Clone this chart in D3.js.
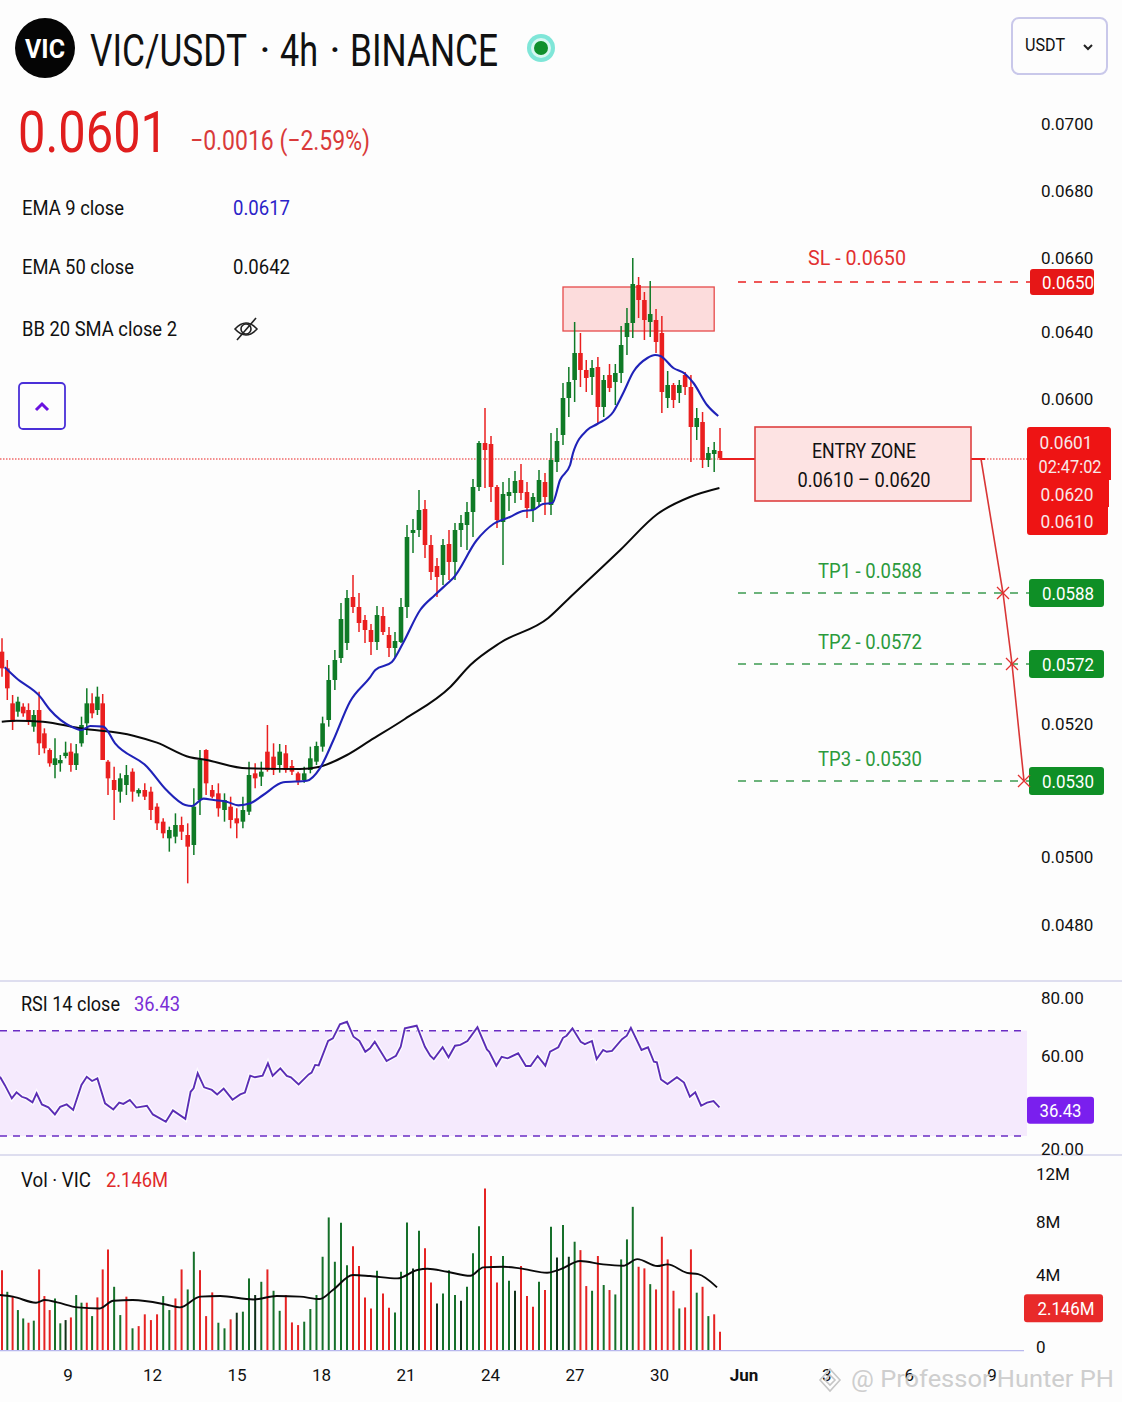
<!DOCTYPE html>
<html>
<head>
<meta charset="utf-8">
<script src="https://cdn.jsdelivr.net/npm/d3@7"></script>
<style>
  html, body { margin: 0; padding: 0; background: #fdfdfd; }
  svg { display: block; font-family: Roboto, "Noto Sans", sans-serif; }
</style>
</head>
<body>
<div id="chart"></div>
<script>
// candle prices are in 1/100000 USDT (6010 = 0.0601)
const candleOpen = [5432,5382,5277,5252,5267,5257,5207,5257,5187,5137,5092,5097,5119,5132,5092,5157,5217,5277,5257,5277,5102,5047,5012,5032,5072,5007,5017,5012,4967,4922,4872,4877,4912,4882,4852,4987,5137,5017,5007,4957,4967,4932,4922,4952,5067,5057,5132,5117,5092,5127,5089,5067,5047,5077,5102,5147,5227,5347,5413,5458,5596,5566,5527,5497,5461,5539,5482,5443,5461,5566,5788,5797,5860,5752,5689,5662,5755,5701,5797,5812,5851,5926,6058,6055,5926,5821,5899,5908,5947,5911,5857,5881,5941,5872,6001,6082,6193,6247,6328,6277,6256,6286,6166,6262,6241,6268,6376,6418,6532,6487,6421,6427,6388,6193,6232,6208,6262,6226,6106,6121,6007,6025,6034];
const candleHigh = [5472,5407,5302,5297,5277,5277,5257,5312,5202,5142,5172,5122,5162,5157,5155,5237,5322,5307,5327,5305,5107,5087,5067,5092,5082,5022,5037,5027,4977,4932,4907,4947,4937,4917,5022,5137,5139,5032,5037,5007,4997,4962,4997,5102,5097,5102,5212,5157,5155,5152,5107,5072,5087,5147,5162,5237,5392,5437,5578,5617,5662,5608,5542,5515,5569,5566,5506,5491,5593,5812,5830,5917,5887,5782,5713,5770,5797,5818,5842,5881,5950,6064,6163,6079,5932,5941,5953,5974,5995,5941,5908,5977,5968,6088,6103,6238,6286,6421,6388,6307,6307,6316,6262,6295,6295,6409,6463,6613,6556,6511,6544,6460,6439,6274,6238,6247,6271,6262,6163,6151,6046,6061,6103];
const candleLow = [5357,5287,5197,5237,5237,5212,5192,5122,5127,5087,5052,5072,5112,5072,5077,5147,5182,5232,5242,5107,5002,4927,4979,5002,4982,4997,4987,4927,4897,4872,4832,4857,4867,4737,4822,4942,5002,4992,4937,4922,4902,4872,4902,4942,5022,5029,5072,5062,5069,5069,5062,5032,5039,5067,5092,5132,5207,5317,5398,5437,5548,5491,5458,5422,5437,5482,5416,5416,5458,5533,5728,5776,5713,5647,5596,5632,5647,5647,5746,5737,5776,5914,5923,5881,5803,5692,5854,5878,5887,5833,5821,5866,5842,5842,5971,6052,6136,6181,6226,6211,6202,6118,6136,6211,6172,6238,6322,6373,6433,6367,6376,6328,6148,6163,6163,6178,6202,6001,6067,5983,5986,5971,6007];
const candleClose = [5382,5322,5222,5282,5247,5222,5242,5157,5142,5097,5112,5107,5129,5092,5127,5212,5277,5247,5297,5107,5052,5017,5052,5062,5012,5017,4997,4957,4917,4887,4897,4912,4892,4847,4967,5107,5037,4997,4962,4987,4927,4917,4957,5062,5052,5072,5077,5077,5132,5077,5072,5042,5067,5112,5149,5217,5347,5407,5530,5593,5566,5518,5497,5461,5542,5491,5443,5464,5566,5776,5797,5857,5752,5671,5656,5752,5701,5797,5818,5851,5926,6058,6037,5926,5827,5905,5911,5944,5908,5863,5896,5947,5896,6007,6064,6193,6241,6328,6277,6253,6283,6166,6247,6223,6268,6352,6418,6535,6487,6427,6445,6361,6211,6232,6187,6232,6226,6106,6133,6007,6028,6037,6013];

// EMA lines, bar number and price
const ema9Bar = [0.8,2.8,6.8,8.5,12.1,13.8,15.3,17.5,19.5,24.9,28.2,31.4,32.5,34.5,36.2,38.4,40.4,42.4,44.6,48,52,54.2,56.5,59.3,62.7,63.6,66.4,68.3,71.2,73.7,75.9,76.8,80.8,83.6,86.4,88.6,90.3,92,93.6,94.9,96.6,97.1,99.5,101.2,103.9,105.6,107.3,109.7,111,111.9,114.1,116.1,117.5,119.8,121.7];
const ema9Value = [5385,5352,5297,5257,5207,5197,5209,5207,5157,5087,5017,4972,4969,4991,4987,4982,4971,4977,5002,5040,5045,5082,5167,5282,5355,5377,5401,5458,5557,5602,5638,5653,5767,5815,5836,5854,5857,5875,5878,5947,5992,6028,6097,6115,6151,6208,6271,6313,6322,6319,6283,6265,6238,6172,6139];
const ema50Bar = [0.3,2.8,7.3,13.6,22.6,26.6,32.2,35,41.8,50.8,54.2,58.8,62.7,68.6,76.3,79.7,84.7,92.9,96.3,105.1,111.4,116.9,121.9];
const ema50Value = [5222,5225,5222,5202,5180,5159,5115,5107,5082,5080,5087,5122,5165,5230,5326,5392,5458,5533,5590,5737,5845,5896,5923];

// price labels on the right, the picture does not space them evenly
const priceTicks = [0.07,0.068,0.066,0.064,0.06,0.052,0.05,0.048];
const priceTickRows = [124,191,258,332,399,724,857,925];

// trade levels
const slLevel = 0.065;
const tpNames = ["TP1","TP2","TP3"];
const tpLevels = [0.0588,0.0572,0.053];
const levelRows = [282,593,664,781];
const resistanceZone = [6526,6394];
const lastPrice = 6010;

// RSI
const rsiBar = [0,0.8,2,2.8,3.7,4.5,5.5,6.2,7.1,8.2,9.3,10.2,11.3,12.4,13.8,14.7,15.6,16.5,17.8,19.2,20.2,20.9,22,23.1,24.9,25.9,27.1,28.1,29.3,31.4,32.3,32.8,33.5,34.6,35.9,36.8,37.9,39.4,40.7,41.5,42.4,43.2,44.5,45.4,46.2,47.5,48.6,49.3,50.6,52.3,52.8,53.4,54,55.6,56.4,57.6,58.8,59.9,60.9,61.9,62.7,63.5,65.5,67.1,67.9,68.6,70.6,72,72.9,73.5,75,76,77.1,78,79.2,80.9,82.5,82.9,84.1,85,86,87.8,89.1,89.9,91.1,92.4,93.2,94.6,95.4,96,97,98.4,99.1,100.3,101.1,102.2,102.8,103.7,105.4,106.2,106.9,108.7,109.8,110.8,111.3,112,113.1,114.7,115.9,116.9,117.8,118.8,119.8,120.9,121.9];
const rsiValue = [52.5,49.4,44.3,46.6,44.9,44.3,42.8,46.2,42,40.9,38.2,41.1,42,39.9,49.4,52.5,50.9,51.9,42.4,40.1,42.7,42.2,43.7,40.8,41.5,38.2,36.7,35.4,39.7,36.5,46.8,48.1,53.8,48.5,47.5,45.8,48,43.8,45.8,46.5,52.9,52.3,52.9,57.6,52.9,55.7,52.8,52.3,49.6,53.4,54.1,57,56.8,66.1,67.1,72.4,73.4,67.7,66.1,62,63.3,65.8,58.5,60.5,63.9,70.9,71.9,63.9,60.5,59.2,63.7,59.9,64.3,64.6,66.1,71.3,62.9,62,56.7,60.1,59.5,61.4,56.6,56.6,60.4,56.7,62,63.7,67.3,68.1,70.9,65.8,64.9,66.1,59.2,62.7,62,62.3,66.8,68.1,71.1,62.7,63.7,58.2,58,51.5,49.7,52.3,50.3,44.9,46.6,41.5,42.7,43.3,40.9];
const rsiTicks = [80,60,20];
const rsiTickRows = [998,1056,1149];
const rsiLast = 36.43;

// volume in millions, R red, G green, D dark
const volumeValue = [5.47,4,3.71,2.76,2.19,1.9,2.04,5.52,3.71,2.76,3.55,1.86,2.08,2.26,3.78,3.26,3.26,2.35,3.62,5.52,6.88,4.34,2.42,3.67,1.52,1.67,2.47,2.08,2.47,3.71,2.76,3.55,5.52,4.16,6.72,5.47,2.35,3.96,1.9,1.52,2.13,2.58,2.65,4.91,3.78,4.68,5.52,4.07,2.71,3.78,1.92,1.74,1.97,2.83,3.78,6.38,9.05,6.04,8.69,5.81,7.1,5.75,3.62,2.87,5.43,3.89,2.92,2.6,5.36,8.71,5.59,8.14,6.95,4.64,3.21,3.89,5.47,3.78,3.39,4.34,6.61,8.46,11.02,6.43,4.64,6.43,4.75,4.07,5.75,3.71,2.99,4.68,4.12,8.42,6.33,8.53,6.38,7.4,6.83,4.39,4.07,6.43,4.46,4.12,3.82,6.2,7.56,9.77,5.7,5.59,4.52,4.16,7.74,6.2,4.07,2.87,2.94,6.88,3.94,4.34,2.35,2.47,1.29];
const volumeSide = "RGRGGRGRRRGGDRGGRGRRRGGRGRRRRGGRRGGRRRGGRDGGDGRGGRRRGGGGGGGGRRRRGRRGGGDGRRDGGGDGGGRRRGGDRRRGRGDGDGRRGRGRGGGGRRGRRRRGRRGRGRR".split("");
const volMaBar = [0,2.2,6.1,7.6,9.7,13.2,16.9,19.2,22.5,28.3,30.5,33.9,37.3,42.9,46.9,50.8,54.2,56.4,59.8,62.7,67.3,70.7,72.4,75.8,79.7,81.9,85.3,88.1,92.7,94.9,98.3,102.2,105.6,108,111.4,113.1,116.4,118.3,121.5];
const volMaValue = [3.78,3.67,3.26,3.44,3.28,2.94,2.87,3.39,3.44,3.12,2.94,3.67,3.71,3.48,3.71,3.67,3.51,4.12,5.14,5.07,4.91,5.48,5.57,5.36,5.09,5.66,5.7,5.59,5.29,5.52,6.09,5.86,5.77,6.22,5.75,5.86,5.29,5.2,4.3];
const volTicks = [12,8,4,0];
const volTickRows = [1174,1222,1275,1347];
const volLast = 2.146;

const dateLabels = ["9","12","15","18","21","24","27","30","Jun","3","6","9"];

const RED = "#ea1f1f", GREEN = "#0f7a26", LABEL_GREEN = "#2b9a3c", PURPLE = "#5b2db5";

const svg = d3.select("#chart").append("svg").attr("width", 1122).attr("height", 1402);
svg.append("rect").attr("width", 1122).attr("height", 1402).attr("fill", "#fdfdfd");

// scales
const barX = d3.scaleLinear().domain([0,20,58,95,122]).range([2,108,341,563,720]); // candle spacing drifts a little in the picture
const lineX = d3.scaleLinear().domain([0,122]).range([0,720]);
const y = d3.scaleLinear().domain([7000,6010]).range([129,459]);
const priceAxisY = d3.scaleLinear().domain(priceTicks).range(priceTickRows);
const levelY = d3.scaleLinear().domain([slLevel, ...tpLevels]).range(levelRows);
const rsiY = d3.scaleLinear().domain([70,30]).range([1030.7,1136]);
const rsiAxisY = d3.scaleLinear().domain(rsiTicks).range(rsiTickRows);
const volY = d3.scaleLinear().domain([0,12]).range([1350.7,1174]);
const volAxisY = d3.scaleLinear().domain(volTicks).range(volTickRows);
const dateX = d3.scaleLinear().domain([0,8,11]).range([68,744,992]);
const fmt4 = d3.format(".4f");

function label(text, x, yy, o = {}) {
  const t = svg.append("text")
    .attr("x", x).attr("y", yy).attr("dy", "0.36em")
    .attr("font-size", o.size || 20)
    .attr("fill", o.fill || "#111")
    .attr("font-weight", o.weight || 400)
    .attr("text-anchor", o.anchor || "start")
    .text(text);
  if (o.len) t.attr("textLength", o.len).attr("lengthAdjust", "spacingAndGlyphs");
  return t;
}

function pill(text, x, yy, w, h, fill, o = {}) {
  svg.append("rect").attr("x", x).attr("y", yy).attr("width", w).attr("height", h)
    .attr("rx", 3).attr("fill", fill);
  label(text, x + (o.tx || w / 2), yy + h / 2, { size: o.size || 19, fill: "#fff", anchor: "middle", len: o.len });
}

// header
svg.append("circle").attr("cx", 45).attr("cy", 48).attr("r", 30).attr("fill", "#050505");
label("VIC", 45, 49, { size: 26, fill: "#fff", weight: 700, anchor: "middle", len: 40 });
label("VIC/USDT", 90, 50, { size: 44, len: 157 });
label("·", 265, 50, { size: 44, anchor: "middle" });
label("4h", 280, 50, { size: 44, len: 38 });
label("·", 335, 50, { size: 44, anchor: "middle" });
label("BINANCE", 350, 50, { size: 44, len: 148 });
svg.append("circle").attr("cx", 541).attr("cy", 48).attr("r", 14).attr("fill", "#7fe6d8");
svg.append("circle").attr("cx", 541).attr("cy", 48).attr("r", 10).attr("fill", "#d8f7f2");
svg.append("circle").attr("cx", 541).attr("cy", 48).attr("r", 7).attr("fill", "#0f8f2c");
label("0.0601", 18, 131, { size: 58, fill: "#e01e1e", len: 150 });
label("−0.0016 (−2.59%)", 190, 140, { size: 28, fill: "#d93a3a", len: 180 });

// dropdown and collapse button
svg.append("rect").attr("x", 1012).attr("y", 18).attr("width", 95).attr("height", 56).attr("rx", 7)
  .attr("fill", "none").attr("stroke", "#c9c8ea").attr("stroke-width", 2);
label("USDT", 1025, 45, { size: 18, len: 40 });
svg.append("path").attr("d", "M1084,45 l4,4 l4,-4").attr("fill", "none").attr("stroke", "#222").attr("stroke-width", 2);
svg.append("rect").attr("x", 19).attr("y", 383).attr("width", 46).attr("height", 46).attr("rx", 4)
  .attr("fill", "none").attr("stroke", "#4a30d8").attr("stroke-width", 1.8);
svg.append("path").attr("d", "M36,410 l6,-6 l6,6").attr("fill", "none").attr("stroke", "#6a12e0").attr("stroke-width", 3);

// indicator legend
label("EMA 9 close", 22, 208, { size: 20, len: 102 });
label("0.0617", 233, 208, { size: 20, fill: "#2a22c8", len: 57 });
label("EMA 50 close", 22, 267, { size: 20, len: 112 });
label("0.0642", 233, 267, { size: 20, len: 57 });
label("BB 20 SMA close 2", 22, 329, { size: 20, len: 155 });
const eye = svg.append("g").attr("fill", "none").attr("stroke", "#222").attr("stroke-width", 1.6);
eye.append("path").attr("d", "M235,329 Q246,317 257,329 Q246,341 235,329 Z");
eye.append("circle").attr("cx", 246).attr("cy", 329).attr("r", 5);
eye.append("line").attr("x1", 237).attr("y1", 340).attr("x2", 256).attr("y2", 318);

// resistance box goes under the candles
svg.append("rect")
  .attr("x", barX(95)).attr("width", barX(121) - barX(95))
  .attr("y", y(resistanceZone[0])).attr("height", y(resistanceZone[1]) - y(resistanceZone[0]))
  .attr("fill", "#fcdcdc").attr("stroke", "#e64a4a").attr("stroke-width", 1.3);

// last price line
svg.append("line").attr("x1", 0).attr("x2", 1027).attr("y1", y(lastPrice)).attr("y2", y(lastPrice))
  .attr("stroke", RED).attr("stroke-width", 1).attr("stroke-dasharray", "1.5,1.5");

// candles
const candles = candleOpen.map((o, i) => ({ i, o, h: candleHigh[i], l: candleLow[i], c: candleClose[i] }));
const candleColor = d => d.c >= d.o ? GREEN : RED;
svg.append("g").selectAll("line").data(candles).enter().append("line")
  .attr("x1", d => barX(d.i)).attr("x2", d => barX(d.i))
  .attr("y1", d => y(d.h)).attr("y2", d => y(d.l))
  .attr("stroke", candleColor).attr("stroke-width", 1.5);
svg.append("g").selectAll("rect").data(candles).enter().append("rect")
  .attr("x", d => barX(d.i) - 2.3).attr("width", 4.6)
  .attr("y", d => y(Math.max(d.o, d.c)))
  .attr("height", d => Math.max(1.5, Math.abs(y(d.o) - y(d.c))))
  .attr("fill", candleColor);

// EMAs
const emaLine = d3.line().x(d => lineX(d[0])).y(d => y(d[1])).curve(d3.curveMonotoneX);
svg.append("path").attr("d", emaLine(d3.zip(ema50Bar, ema50Value)))
  .attr("fill", "none").attr("stroke", "#0a0a0a").attr("stroke-width", 2);
svg.append("path").attr("d", emaLine(d3.zip(ema9Bar, ema9Value)))
  .attr("fill", "none").attr("stroke", "#1f22b8").attr("stroke-width", 2.1);

// price labels
svg.append("g").attr("transform", "translate(1041,0)")
  .call(d3.axisRight(priceAxisY).tickValues(priceTicks).tickFormat(fmt4).tickSize(0).tickPadding(0))
  .call(g => g.select(".domain").remove())
  .call(g => g.selectAll("text").attr("font-size", 17).attr("font-family", "Roboto").attr("fill", "#111"));

// SL and TP levels
svg.append("line").attr("x1", 738).attr("x2", 1030).attr("y1", levelY(slLevel)).attr("y2", levelY(slLevel))
  .attr("stroke", RED).attr("stroke-width", 1.3).attr("stroke-dasharray", "8,8");
label("SL - " + fmt4(slLevel), 857, levelY(slLevel) - 25, { size: 21, fill: "#e23030", anchor: "middle", len: 98 });
pill(fmt4(slLevel), 1030, levelY(slLevel) - 13, 64, 26, "#e61717", { len: 52, tx: 38 });

tpLevels.forEach((v, i) => {
  svg.append("line").attr("x1", 738).attr("x2", 1030).attr("y1", levelY(v)).attr("y2", levelY(v))
    .attr("stroke", "#3c9a50").attr("stroke-width", 1.3).attr("stroke-dasharray", "8,8");
  label(tpNames[i] + " - " + fmt4(v), 870, levelY(v) - 23, { size: 21, fill: LABEL_GREEN, anchor: "middle", len: 104 });
  pill(fmt4(v), 1029, levelY(v) - 14, 75, 28, "#0f8f26", { len: 52, tx: 39 });
});

// entry zone
svg.append("line").attr("x1", 720).attr("x2", 755).attr("y1", y(lastPrice)).attr("y2", y(lastPrice))
  .attr("stroke", RED).attr("stroke-width", 2);
svg.append("line").attr("x1", 971).attr("x2", 985).attr("y1", y(lastPrice)).attr("y2", y(lastPrice))
  .attr("stroke", RED).attr("stroke-width", 2);
svg.append("rect").attr("x", 755).attr("y", 427).attr("width", 216).attr("height", 74)
  .attr("fill", "#fde3e3").attr("stroke", "#de4040").attr("stroke-width", 1.6);
label("ENTRY ZONE", 864, 450, { size: 21, anchor: "middle", len: 104 });
label("0.0610 – 0.0620", 864, 479, { size: 21, anchor: "middle", len: 133 });

// path from entry down through the targets
const dropX = [981,1003,1012,1024];
const dropRows = [y(lastPrice), ...tpLevels.map(levelY)];
svg.append("path").attr("d", d3.line()(d3.zip(dropX, dropRows)))
  .attr("fill", "none").attr("stroke", "#d93636").attr("stroke-width", 1.6);
tpLevels.forEach((v, i) => {
  const cx = dropX[i + 1], cy = levelY(v);
  svg.append("path").attr("d", `M${cx - 6},${cy - 6} L${cx + 6},${cy + 6} M${cx + 6},${cy - 6} L${cx - 6},${cy + 6}`)
    .attr("stroke", "#e23030").attr("stroke-width", 1.3);
});

// last price tags
svg.append("path").attr("d", "M1030,427 h78 q3,0 3,3 v50 h-2 v27 h-1 v25 q0,3 -3,3 h-75 q-3,0 -3,-3 v-102 q0,-3 3,-3 Z").attr("fill", "#ee1414");
label("0.0601", 1066, 442, { size: 19, fill: "#f8e8e8", anchor: "middle", len: 53 });
label("02:47:02", 1070, 466, { size: 19, fill: "#f8e8e8", anchor: "middle", len: 63 });
label("0.0620", 1067, 494, { size: 19, fill: "#f8e8e8", anchor: "middle", len: 53 });
label("0.0610", 1067, 521, { size: 19, fill: "#f8e8e8", anchor: "middle", len: 53 });

// pane separators
[981, 1155].forEach(r => {
  svg.append("line").attr("x1", 0).attr("x2", 1122).attr("y1", r).attr("y2", r)
    .attr("stroke", "#d3d3ea").attr("stroke-width", 1.4);
});

// RSI pane
label("RSI 14 close", 21, 1004, { size: 20, len: 99 });
label(d3.format(".2f")(rsiLast), 134, 1004, { size: 20, fill: "#7a2fd6", len: 46 });
svg.append("rect").attr("x", 0).attr("width", 1027).attr("y", rsiY(70)).attr("height", rsiY(30) - rsiY(70))
  .attr("fill", "#f5eafd");
[70, 30].forEach(v => {
  svg.append("line").attr("x1", 0).attr("x2", 1027).attr("y1", rsiY(v)).attr("y2", rsiY(v))
    .attr("stroke", "#6a2cc4").attr("stroke-width", 1.5).attr("stroke-dasharray", "7,6");
});
const rsiLine = d3.line().x(d => lineX(d[0])).y(d => rsiY(d[1]));
svg.append("path").attr("d", rsiLine(d3.zip(rsiBar, rsiValue)))
  .attr("fill", "none").attr("stroke", "#fff").attr("stroke-width", 4.5).attr("opacity", 0.8);
svg.append("path").attr("d", rsiLine(d3.zip(rsiBar, rsiValue)))
  .attr("fill", "none").attr("stroke", PURPLE).attr("stroke-width", 1.9);
svg.append("g").attr("transform", "translate(1041,0)")
  .call(d3.axisRight(rsiAxisY).tickValues(rsiTicks).tickFormat(d3.format(".2f")).tickSize(0).tickPadding(0))
  .call(g => g.select(".domain").remove())
  .call(g => g.selectAll("text").attr("font-size", 17).attr("font-family", "Roboto").attr("fill", "#111"));
pill(d3.format(".2f")(rsiLast), 1027, rsiAxisY(rsiLast) - 14, 67, 27, "#7a1fee", { len: 42 });

// volume pane
label("Vol · VIC", 21, 1180, { size: 20, len: 70 });
label(volLast + "M", 106, 1180, { size: 20, fill: "#e02a2a", len: 62 });
const volColor = { R: "#e52323", G: "#16702a", D: "#10301a" };
svg.append("g").selectAll("line").data(volumeValue).enter().append("line")
  .attr("x1", (d, i) => barX(i)).attr("x2", (d, i) => barX(i))
  .attr("y1", d => volY(d)).attr("y2", volY(0))
  .attr("stroke", (d, i) => volColor[volumeSide[i]]).attr("stroke-width", 2);
svg.append("line").attr("x1", 0).attr("x2", 1024).attr("y1", volY(0)).attr("y2", volY(0))
  .attr("stroke", "#b9b9ee").attr("stroke-width", 1.2);
svg.append("path")
  .attr("d", d3.line().x(d => lineX(d[0])).y(d => volY(d[1])).curve(d3.curveMonotoneX)(d3.zip(volMaBar, volMaValue)))
  .attr("fill", "none").attr("stroke", "#0a0a0a").attr("stroke-width", 1.9);
svg.append("g").attr("transform", "translate(1036,0)")
  .call(d3.axisRight(volAxisY).tickValues(volTicks).tickFormat(d => d ? d + "M" : "0").tickSize(0).tickPadding(0))
  .call(g => g.select(".domain").remove())
  .call(g => g.selectAll("text").attr("font-size", 17).attr("font-family", "Roboto").attr("fill", "#111"));
pill(volLast + "M", 1024, volAxisY(volLast) - 14, 79, 28, "#e82a2a", { len: 57, tx: 42 });

// date labels
dateLabels.forEach((d, i) => {
  label(d, dateX(i), 1375, { size: 17, anchor: "middle", weight: d === "Jun" ? 700 : 400 });
});

// watermark
svg.append("path").attr("d", "M830,1369 l10,11 l-10,11 l-10,-11 Z M830,1375 l5,5 l-5,5 l-5,-5 Z")
  .attr("fill", "none").attr("stroke", "#c6c6c6").attr("stroke-width", 1.6);
label("@ Professor Hunter PH", 851, 1378, { size: 24, fill: "#c6c6c6", len: 263 }).attr("opacity", 0.85);
</script>
</body>
</html>
